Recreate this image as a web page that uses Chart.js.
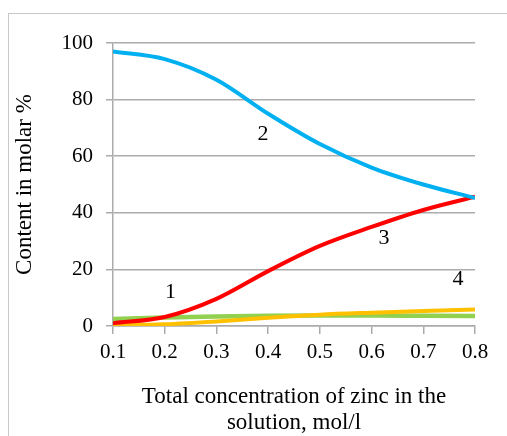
<!DOCTYPE html>
<html>
<head>
<meta charset="utf-8">
<script src="https://cdn.jsdelivr.net/npm/chart.js@4"></script>
<style>
html,body{margin:0;padding:0;background:#fff;}
#wrap{width:507px;height:436px;position:relative;}
</style>
</head>
<body>
<div id="wrap"><canvas id="c" width="507" height="436"></canvas></div>
<script>
const xValues = [0.1, 0.2, 0.3, 0.4, 0.5, 0.6, 0.7, 0.8];
const xTickLabels = ['0.1','0.2','0.3','0.4','0.5','0.6','0.7','0.8'];
const yTicks = [0, 20, 40, 60, 80, 100];
const series1 = [2.5, 3.0, 3.4, 3.6, 3.7, 3.7, 3.6, 3.5];      // green
const series2 = [97.0, 94.3, 87.0, 75.0, 64.3, 56.0, 50.0, 45.2]; // blue
const series3 = [1.0, 3.2, 9.6, 19.4, 28.3, 35.0, 41.0, 45.7];  // red
const series4 = [0.2, 0.6, 1.6, 2.9, 4.0, 4.7, 5.3, 5.8];       // yellow
const curveLabels = ['1', '2', '3', '4'];
const curveLabelX = [0.211, 0.39, 0.624, 0.767];
const curveLabelY = [12, 67.8, 31, 16.5];

const toPts = arr => arr.map((v, i) => ({x: xValues[i], y: v}));
const FONT = 'Liberation Serif';
const GRID = '#ABABAB';

const framePlugin = {
  id: 'frame',
  beforeDraw(chart) {
    const ctx = chart.ctx;
    ctx.save();
    ctx.fillStyle = '#fff';
    ctx.fillRect(0, 0, chart.width, chart.height);
    ctx.strokeStyle = '#C8C8C8';
    ctx.lineWidth = 1;
    ctx.strokeRect(8.5, 13.5, chart.width + 20, chart.height + 20);
    ctx.restore();
  }
};

const labelPlugin = {
  id: 'curveLabels',
  afterDatasetsDraw(chart) {
    const ctx = chart.ctx;
    const xs = chart.scales.x, ys = chart.scales.y;
    ctx.save();
    ctx.font = '22px "' + FONT + '"';
    ctx.fillStyle = '#000';
    ctx.textAlign = 'center';
    ctx.textBaseline = 'middle';
    curveLabels.forEach((t, i) => {
      ctx.fillText(t, xs.getPixelForValue(curveLabelX[i]), ys.getPixelForValue(curveLabelY[i]));
    });
    ctx.restore();
  }
};

const mk = (data, color, width, order) => ({
  data: toPts(data), borderColor: color, backgroundColor: color, borderWidth: width,
  pointRadius: 0, cubicInterpolationMode: 'monotone', fill: false, order: order
});

new Chart(document.getElementById('c'), {
  type: 'line',
  data: {
    datasets: [
      mk(series1, '#92D050', 4.5, 4),
      mk(series2, '#00B0F0', 4, 1),
      mk(series3, '#FF0000', 4, 2),
      mk(series4, '#FFC000', 4, 3)
    ]
  },
  options: {
    responsive: false,
    animation: false,
    devicePixelRatio: 1,
    layout: {padding: {left: 0, top: 43, right: 32, bottom: 0}},
    plugins: {legend: {display: false}, tooltip: {enabled: false}},
    scales: {
      x: {
        type: 'linear', min: 0.1, max: 0.8,
        afterBuildTicks: s => { s.ticks = xValues.map(v => ({value: v})); },
        afterFit: s => { s.height = 110; },
        ticks: {
          callback: (v, i) => xTickLabels[i],
          color: '#000', font: {family: FONT, size: 21}, padding: 6, maxRotation: 0, autoSkip: false
        },
        grid: {drawOnChartArea: false, drawTicks: true, tickLength: 8, color: GRID, lineWidth: 1.5},
        border: {display: true, color: GRID, width: 1.5},
        title: {
          display: true,
          text: ['Total concentration of zinc in the', 'solution, mol/l'],
          color: '#000', font: {family: FONT, size: 23, lineHeight: 1.13},
          padding: {top: 0, bottom: 0}
        }
      },
      y: {
        min: 0, max: 100,
        afterBuildTicks: s => { s.ticks = yTicks.map(v => ({value: v})); },
        afterFit: s => { s.width = 113; },
        ticks: {color: '#000', font: {family: FONT, size: 21}, padding: 13},
        grid: {color: GRID, lineWidth: 1.5, drawTicks: true, tickLength: 7},
        border: {display: true, color: GRID, width: 1.5},
        title: {
          display: true, text: 'Content in molar %',
          color: '#000', font: {family: FONT, size: 23, lineHeight: 1.13},
          padding: {top: 12, bottom: 0}
        }
      }
    }
  },
  plugins: [framePlugin, labelPlugin]
});
</script>
</body>
</html>
